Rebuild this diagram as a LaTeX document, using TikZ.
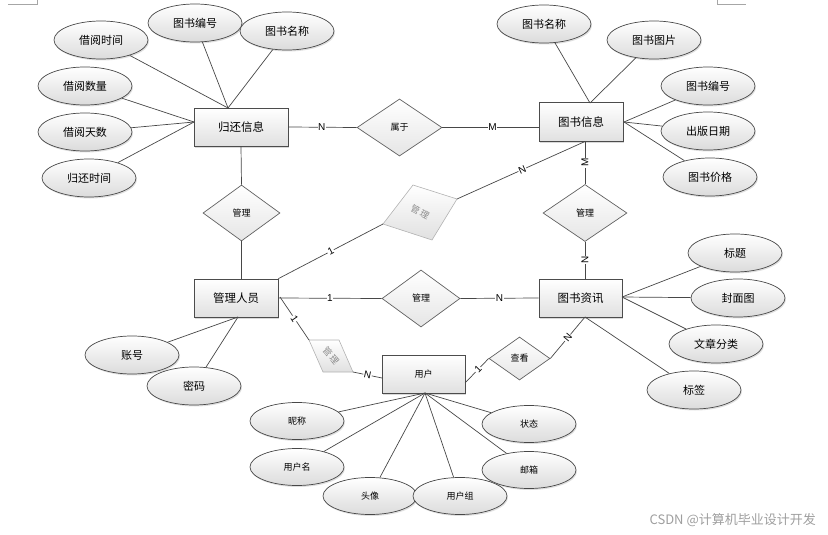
\documentclass[tikz,border=0pt]{standalone}
\usepackage{fontspec}
\setmainfont{Liberation Sans}
\newfontfamily\cjk{Noto Sans CJK SC}
\usetikzlibrary{shapes.geometric,shadows,calc}
\begin{document}
\begin{tikzpicture}[x=1pt,y=-1pt,
  ln/.style={draw=black!72, line width=0.7pt},
  attr/.style={ellipse, draw=black!72, line width=0.7pt, top color=white, bottom color=black!14,
    minimum width=94pt, minimum height=38pt, inner sep=0pt,
    font=\cjk\fontsize{11}{11}\selectfont,
    drop shadow={shadow xshift=1pt,shadow yshift=-1.5pt,opacity=0.25}},
  sattr/.style={attr, minimum height=37pt, font=\cjk\fontsize{9}{9}\selectfont},
  ent/.style={rectangle, draw=black!70, line width=0.7pt, top color=white, bottom color=black!12,
    minimum width=84pt, minimum height=38pt, inner sep=0pt,
    font=\cjk\fontsize{11.5}{11.5}\selectfont,
    drop shadow={shadow xshift=1.2pt,shadow yshift=-1.5pt,opacity=0.3}},
  rel/.style={diamond, draw=black!62, line width=0.7pt, top color=white, bottom color=black!10,
    inner sep=0pt, font=\cjk\fontsize{9}{9}\selectfont},
  grel/.style={draw=black!30, line width=0.6pt, top color=white, bottom color=black!12},
  gtxt/.style={text=black!45, inner sep=0pt, font=\cjk\fontsize{9}{9}\selectfont},
  lab/.style={fill=white, inner sep=0.6pt, font=\fontsize{10}{10}\selectfont},
  crop/.style={draw=black!35, line width=0.6pt}
]
\useasboundingbox (0,0) rectangle (828,535);

% crop marks
\coordinate (c1) at (8,4); \coordinate (c2) at (37,4); \coordinate (c3) at (37,0);
\coordinate (c4) at (717,0); \coordinate (c5) at (717,4); \coordinate (c6) at (746,4);
\draw[crop] (c1) -- (c2) -- (c3);
\draw[crop] (c4) -- (c5) -- (c6);

% entities
\node[ent, minimum width=94pt] (gh) at (241,127) {归还信息};
\node[ent, minimum height=39pt] (ts) at (581,122) {图书信息};
\node[ent, minimum width=83pt] (zx) at (580.5,298) {图书资讯};
\node[ent] (gl) at (236,298) {管理人员};
\node[ent, minimum width=83pt, font=\cjk\fontsize{9}{9}\selectfont] (yh) at (423.5,374) {用户};

% relations
\node[rel, minimum width=85pt, minimum height=57pt] (sy) at (399.5,127.5) {属于};
\node[rel, minimum width=77pt, minimum height=56pt] (glL) at (241.5,213) {管理};
\node[rel, minimum width=84pt, minimum height=57pt] (glR) at (585,213) {管理};
\node[rel, minimum width=78pt, minimum height=57pt] (glM) at (421,298.5) {管理};
\node[rel, minimum width=61pt, minimum height=43pt] (ck) at (519.5,358.5) {查看};

% grey skewed relations
\coordinate (g1l) at (383,224); \coordinate (g1t) at (413,185);
\coordinate (g1r) at (457,199); \coordinate (g1b) at (432,240);
\path[grel] (g1l) -- (g1t) -- (g1r) -- (g1b) -- cycle;
\node[gtxt, rotate=-28] (g1txt) at (420,212) {管\kern1.5pt理};
\coordinate (g2a) at (309,340); \coordinate (g2b) at (339,340);
\coordinate (g2c) at (353,372); \coordinate (g2d) at (323,372);
\path[grel] (g2a) -- (g2b) -- (g2c) -- (g2d) -- cycle;
\node[gtxt, rotate=-50] (g2txt) at (331,356) {管\kern1.5pt理};

% attributes of 归还信息
\node[attr] (jysj) at (101,40) {借阅时间};
\node[attr] (tsbh1) at (195,23) {图书编号};
\node[attr] (tsmc1) at (287,31) {图书名称};
\node[attr] (jysl) at (85,86) {借阅数量};
\node[attr] (jyts) at (85,132) {借阅天数};
\node[attr] (ghsj) at (89,178) {归还时间};
% attributes of 图书信息
\node[attr] (tsmc2) at (544,24) {图书名称};
\node[attr] (tstp) at (654,40) {图书图片};
\node[attr] (tsbh2) at (708,86) {图书编号};
\node[attr] (cbrq) at (708,131) {出版日期};
\node[attr] (tsjg) at (710,177) {图书价格};
% attributes of 图书资讯
\node[attr] (bt) at (735,253) {标题};
\node[attr] (fmt) at (738,298) {封面图};
\node[attr] (wzfl) at (716,344) {文章分类};
\node[attr] (bq) at (694,390) {标签};
% attributes of 管理人员
\node[attr] (zh) at (132,355) {账号};
\node[attr] (mm) at (194,386) {密码};
% attributes of 用户
\node[sattr] (nc) at (297,421) {昵称};
\node[sattr] (yhm) at (297,467) {用户名};
\node[sattr] (tx) at (370,496) {头像};
\node[sattr] (yhz) at (460,496) {用户组};
\node[sattr] (zt) at (529,424) {状态};
\node[sattr] (yx) at (529,470) {邮箱};

% convergence points
\coordinate (ghT) at (228,108);
\coordinate (ghL) at (194,122);
\coordinate (tsT) at (590,103);
\coordinate (tsR) at (624,122);
\coordinate (tsB) at (585,141.5);
\coordinate (zxR) at (622,297);
\coordinate (zxB) at (585,317);
\coordinate (glB) at (238,317);
\coordinate (yhB) at (425,393);
\coordinate (yhW) at (382,378);
\coordinate (yhE) at (465,383);
\coordinate (glE) at (280,297);

% attribute lines
\foreach \a in {jysj,tsbh1,tsmc1} \draw[ln] (\a) -- (ghT);
\foreach \a in {jysl,jyts,ghsj} \draw[ln] (\a) -- (ghL);
\foreach \a in {tsmc2,tstp} \draw[ln] (\a) -- (tsT);
\foreach \a in {tsbh2,cbrq,tsjg} \draw[ln] (\a) -- (tsR);
\foreach \a in {bt,fmt,wzfl} \draw[ln] (\a) -- (zxR);
\draw[ln] (bq) -- (zxB);
\foreach \a in {zh,mm} \draw[ln] (\a) -- (glB);
\foreach \a in {nc,yhm,tx,yhz,zt,yx} \draw[ln] (\a) -- (yhB);

% relationship lines
\draw[ln] (gh.east) -- (sy.west) node[lab,pos=.49]{N};
\draw[ln] (sy.east) -- (sy.east -| ts.west) node[lab,pos=.52]{M};
\draw[ln] (gh.south) -- (glL.north);
\draw[ln] (glL.south) -- (glL.south |- gl.north);
\draw[ln] (gl.north east) -- (g1l) node[lab,sloped,pos=.5]{1};
\draw[ln] (g1r) -- (tsB) node[lab,sloped,pos=.51]{N};
\draw[ln] (tsB) -- (glR.north) node[lab,rotate=90,pos=.5]{M};
\draw[ln] (glR.south) -- (zx.north -| glR) node[lab,rotate=90,pos=.5]{N};
\draw[ln] (gl.east) -- (glM.west) node[lab,pos=.5]{1};
\draw[ln] (glM.east) -- (zx.west) node[lab,pos=.5]{N};
\draw[ln] (glE) -- (g2a) node[lab,sloped,pos=.5]{1};
\draw[ln] (g2c) -- (yhW) node[lab,sloped,pos=.5]{N};
\draw[ln] (yhE) -- (ck.west) node[lab,sloped,pos=.55]{1};
\draw[ln] (ck.east) -- (zxB) node[lab,sloped,pos=.5]{N};

% watermark
\node[anchor=east, text=black!38, inner sep=0pt, font=\cjk\fontsize{13}{13}\selectfont] (wm) at (816,520) {CSDN @计算机毕业设计开发};
\end{tikzpicture}
\end{document}
